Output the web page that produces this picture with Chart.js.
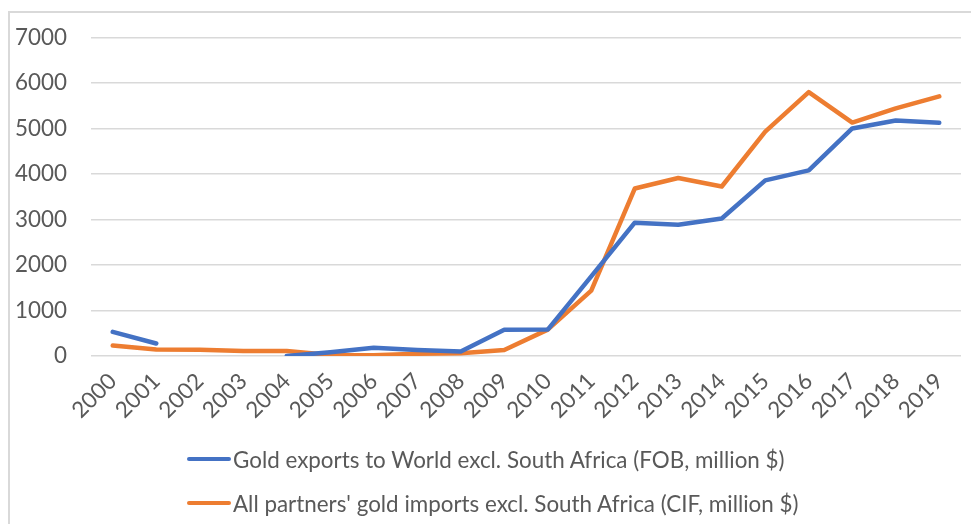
<!DOCTYPE html>
<html>
<head>
<meta charset="utf-8">
<script src="https://cdn.jsdelivr.net/npm/chart.js@4"></script>
<style>
  html, body { margin: 0; padding: 0; background: #ffffff; }
  #wrap { position: relative; width: 971px; height: 524px; overflow: hidden; background: #ffffff; }
  #frame { position: absolute; left: 8px; top: 11px; width: 990px; height: 540px;
           border-left: 2px solid #d9d9d9; border-top: 2px solid #d9d9d9; }
  #chart { position: absolute; left: 0; top: 0; }
  #legend { position: absolute; left: 187px; top: 445px; font-family: Lato, "Open Sans", sans-serif;
            font-size: 22.4px; color: #595959; }
  .item { display: flex; align-items: center; height: 28px; margin-bottom: 16px; white-space: nowrap; }
  .swatch { width: 44px; height: 4px; border-radius: 2px; margin-right: 2px; }
</style>
</head>
<body>
<div id="wrap">
  <div id="frame"></div>
  <canvas id="chart" width="971" height="524"></canvas>
  <div id="legend"></div>
</div>
<script>
// Years on the category axis
const years = ['2000','2001','2002','2003','2004','2005','2006','2007','2008','2009',
               '2010','2011','2012','2013','2014','2015','2016','2017','2018','2019'];

// Gold exports to World excl. South Africa (FOB, million $); no data for 2002-2003
const exportsFOB = [530, 275, null, null, 0, 80, 180, 130, 100, 575,
                    580, 1750, 2930, 2885, 3020, 3860, 4080, 5000, 5175, 5125];

// All partners' gold imports excl. South Africa (CIF, million $)
const importsCIF = [230, 145, 140, 110, 110, 20, 15, 50, 60, 130,
                    580, 1435, 3680, 3910, 3725, 4930, 5800, 5130, 5440, 5705];

const seriesNames = [
  'Gold exports to World excl. South Africa (FOB, million $)',
  "All partners' gold imports excl. South Africa (CIF, million $)"
];

// Value axis
const yMin = 0, yMax = 7000, yStep = 1000;

const textColor = '#595959';
const tickFont = { family: 'Lato, "Open Sans", sans-serif', size: 22.4 };

const chart = new Chart(document.getElementById('chart'), {
  type: 'line',
  data: {
    labels: years,
    datasets: [
      { label: seriesNames[0], data: exportsFOB, borderColor: '#4472C4', backgroundColor: '#4472C4' },
      { label: seriesNames[1], data: importsCIF, borderColor: '#ED7D31', backgroundColor: '#ED7D31' }
    ]
  },
  options: {
    responsive: false,
    animation: false,
    spanGaps: false,
    elements: {
      line: { borderWidth: 4.5, tension: 0, borderCapStyle: 'round', borderJoinStyle: 'round' },
      point: { radius: 0, hoverRadius: 0 }
    },
    layout: { padding: { left: 8, right: 10, top: 34, bottom: 88 } },
    plugins: { legend: { display: false }, tooltip: { enabled: false } },
    scales: {
      x: {
        offset: true,
        grid: { display: false, drawTicks: false },
        border: { display: false },
        ticks: { color: textColor, font: tickFont, minRotation: 45, maxRotation: 45, autoSkip: false, padding: 12 },
        afterFit(scale) { scale.height = 80; }
      },
      y: {
        min: yMin, max: yMax,
        grid: { color: '#d9d9d9', lineWidth: 1.5, drawTicks: false },
        border: { display: false },
        ticks: { stepSize: yStep, color: textColor, font: tickFont, padding: 24,
                 callback: v => String(v) },
        afterFit(scale) { scale.width = 83; }
      }
    }
  }
});

// Legend below the plot, one entry per row
const legend = document.getElementById('legend');
chart.data.datasets.forEach(ds => {
  const row = document.createElement('div');
  row.className = 'item';
  const sw = document.createElement('span');
  sw.className = 'swatch';
  sw.style.background = ds.borderColor;
  const txt = document.createElement('span');
  txt.textContent = ds.label;
  row.appendChild(sw);
  row.appendChild(txt);
  legend.appendChild(row);
});
</script>
</body>
</html>
